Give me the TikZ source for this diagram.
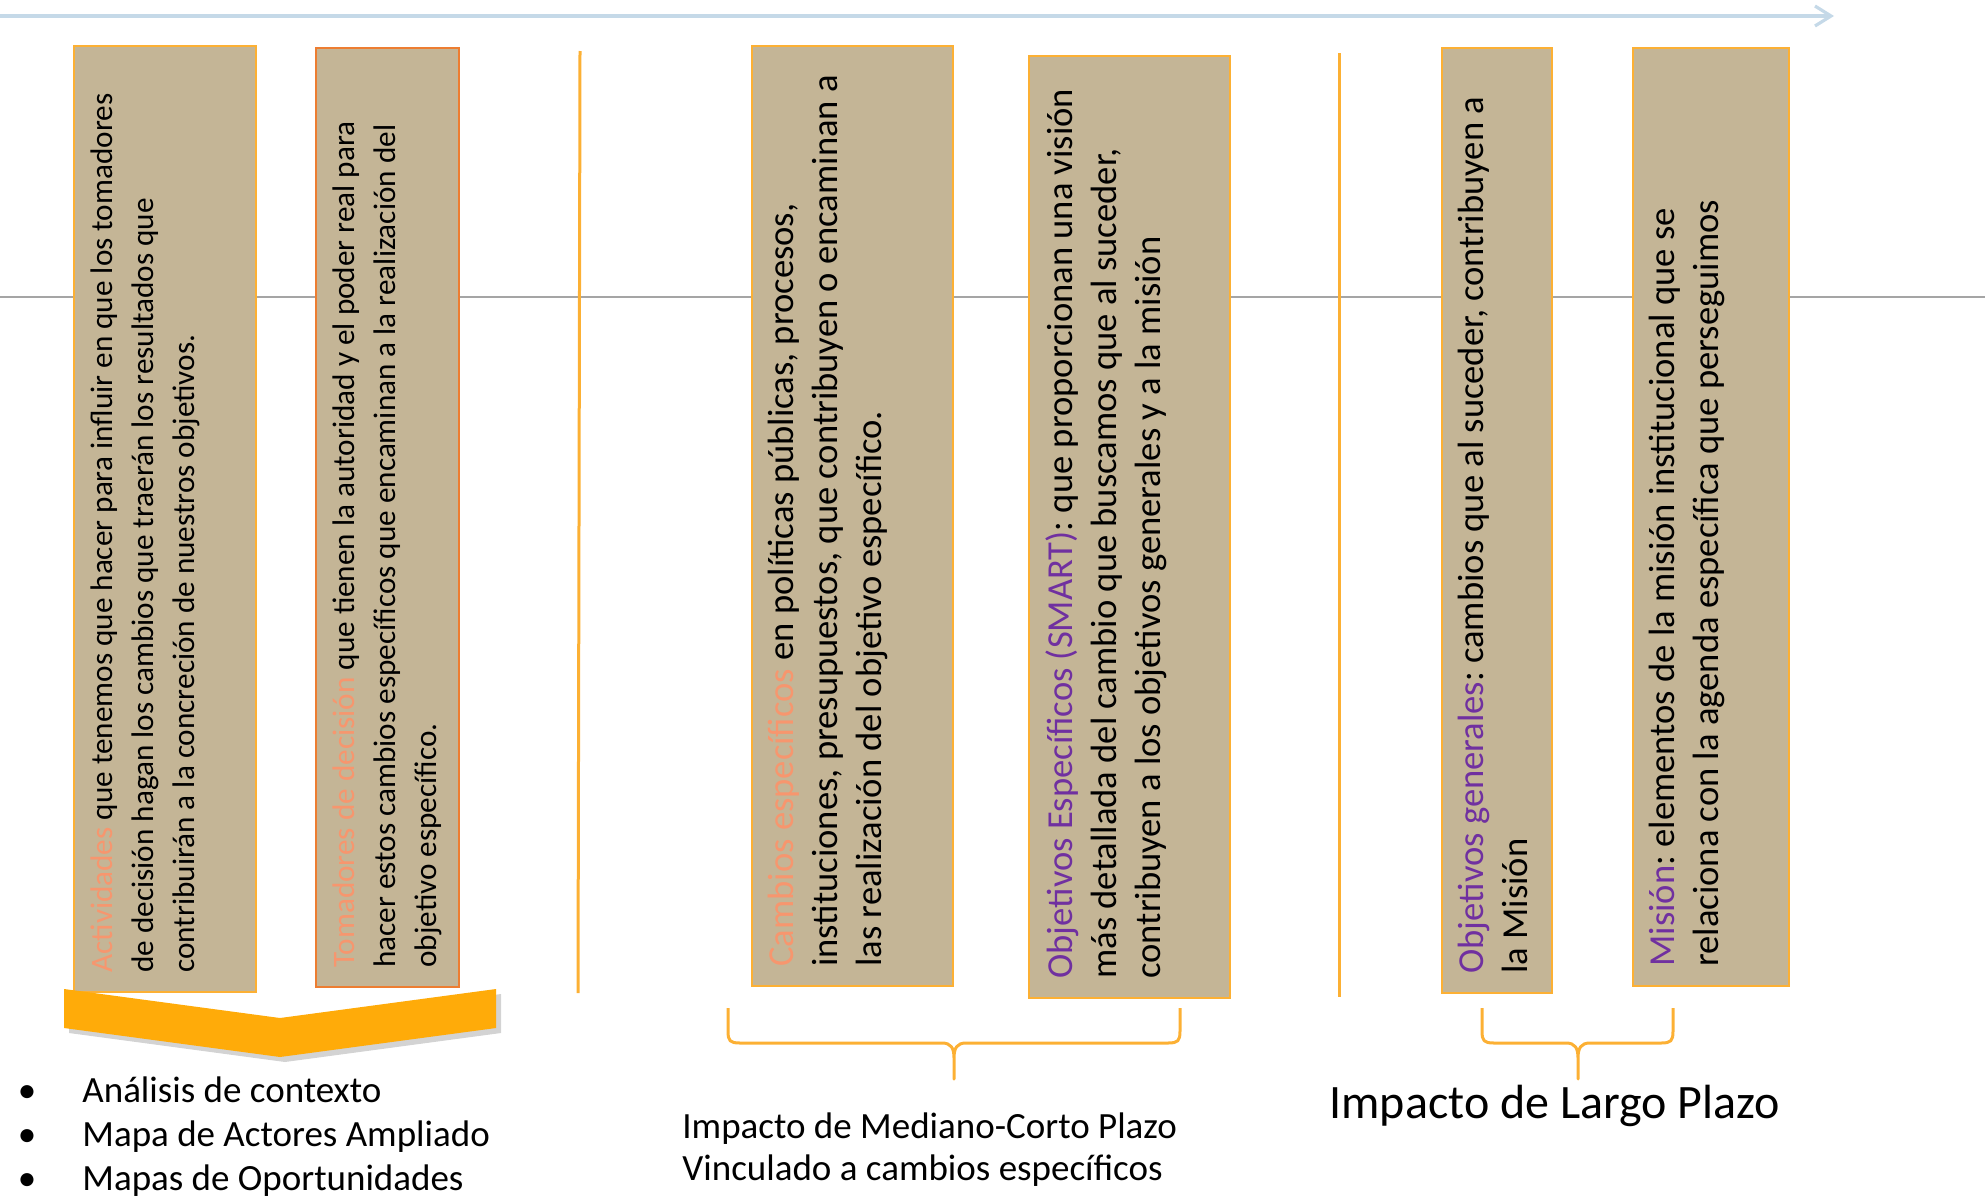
\documentclass[tikz,border=0pt]{standalone}
\usepackage{fontspec}
\setmainfont{Carlito}
\usetikzlibrary{arrows.meta,shadows}
\frenchspacing

\definecolor{boxfill}{RGB}{196,181,150}
\definecolor{lineorange}{RGB}{252,176,52}
\definecolor{redorange}{RGB}{237,125,49}
\definecolor{chevron}{RGB}{255,171,9}
\definecolor{salmon}{RGB}{247,150,110}
\definecolor{titlepurple}{RGB}{112,48,160}
\definecolor{timeline}{RGB}{197,217,232}
\definecolor{midline}{RGB}{165,165,165}

\tikzstyle{box}=[draw=lineorange,fill=boxfill,line width=1pt,inner sep=0pt]
\tikzstyle{boxtext}=[rotate=90,anchor=north west,align=left,inner xsep=10pt,inner ysep=8.5pt,font=\fontsize{18.3}{22}\selectfont]
\tikzstyle{smalltext}=[boxtext,font=\fontsize{15.6}{20.5}\selectfont]
\tikzstyle{brace}=[draw=lineorange,line width=1.5pt,line join=round]
\tikzstyle{divider}=[draw=lineorange,line width=1.5pt]
\tikzstyle{item}=[anchor=base west,inner sep=0pt,font=\fontsize{18.5}{22}\selectfont]

\newcommand{\hlo}[1]{\textcolor{salmon}{#1}}
\newcommand{\hlp}[1]{\textcolor{titlepurple}{#1}}

\begin{document}
\begin{tikzpicture}[x=0.5pt,y=-0.5pt]
  \useasboundingbox (0,0) rectangle (1985,1199);
  \draw[timeline,line width=1.6pt,-{Straight Barb[length=8pt,width=10pt]}] (0,16) -- (1834,16);
  \draw[midline,line width=0.8pt] (0,297) -- (1985,297);

  \node[box,minimum width=91pt,minimum height=473pt] (actividades) at (165,519) {};
  \node[box,draw=redorange,minimum width=71.5pt,minimum height=469.5pt] (tomadores) at (387.5,517.5) {};
  \node[box,minimum width=100.5pt,minimum height=470pt] (cambios) at (852.5,516) {};
  \node[box,minimum width=100.5pt,minimum height=471pt] (especificos) at (1129.5,527) {};
  \node[box,minimum width=55pt,minimum height=472.5pt] (generales) at (1497,520.5) {};
  \node[box,minimum width=78pt,minimum height=469pt] (mision) at (1711,517) {};

  \node[smalltext] (actividades text) at (actividades.south west)
    {\hlo{Actividades} que tenemos que hacer para influir en que los tomadores\\
     de decisión hagan los cambios que traerán los resultados que\\
     contribuirán a la concreción de nuestros objetivos.};
  \node[smalltext] (tomadores text) at (tomadores.south west)
    {\hlo{Tomadores de decisión} que tienen la autoridad y el poder real para\\
     hacer estos cambios específicos que encaminan a la realización del\\
     objetivo específico.};
  \node[boxtext] (cambios text) at (cambios.south west)
    {\hlo{Cambios específicos} en políticas públicas, procesos,\\
     instituciones, presupuestos, que contribuyen o encaminan a\\
     las realización del objetivo específico.};
  \node[boxtext] (especificos text) at (especificos.south west)
    {\hlp{Objetivos Específicos (SMART)}: que proporcionan una visión\\
     más detallada del cambio que buscamos que al suceder,\\
     contribuyen a los objetivos generales y a la misión};
  \node[boxtext] (generales text) at (generales.south west)
    {\hlp{Objetivos generales}: cambios que al suceder, contribuyen a\\
     la Misión};
  \node[boxtext] (mision text) at (mision.south west)
    {\hlp{Misión}: elementos de la misión institucional que se\\
     relaciona con la agenda específica que perseguimos};

  \draw[divider] (580,51) -- (578,993);
  \draw[divider] (1339,53) -- (1339,997);

  \fill[chevron,drop shadow={opacity=0.35,shadow xshift=2.5pt,shadow yshift=-2.5pt}]
    (64,989) -- (280,1018) -- (496,989) -- (496,1028) -- (280,1057) -- (64,1028) -- cycle;

  \foreach \y/\t [count=\i] in {1102/Análisis de contexto,1146/Mapa de Actores Ampliado,1190/Mapas de Oportunidades}{
    \node[item,anchor=base] (dot\i) at (27,\y) {•};
    \node[item] (item\i) at (82,\y) {\t};
  }

  \draw[brace] (728,1008) -- (728,1031) .. controls (728,1041) and (730,1043) .. (740,1043)
    -- (942,1043) .. controls (951,1043) and (954,1048) .. (954,1058) -- (954,1079)
    -- (954,1058) .. controls (954,1048) and (957,1043) .. (966,1043)
    -- (1168,1043) .. controls (1178,1043) and (1180,1041) .. (1180,1031) -- (1180,1008);
  \draw[brace] (1482,1008) -- (1482,1031) .. controls (1482,1041) and (1484,1043) .. (1494,1043)
    -- (1566,1043) .. controls (1575,1043) and (1578,1048) .. (1578,1058) -- (1578,1079)
    -- (1578,1058) .. controls (1578,1048) and (1581,1043) .. (1590,1043)
    -- (1661,1043) .. controls (1671,1043) and (1673,1041) .. (1673,1031) -- (1673,1008);

  \node[item,align=left,font=\fontsize{18.5}{21}\selectfont] (mediano) at (682,1180)
    {Impacto de Mediano-Corto Plazo\\Vinculado a cambios específicos};
  \node[item,font=\fontsize{24}{28}\selectfont] (largo) at (1329,1118) {Impacto de Largo Plazo};
\end{tikzpicture}
\end{document}
